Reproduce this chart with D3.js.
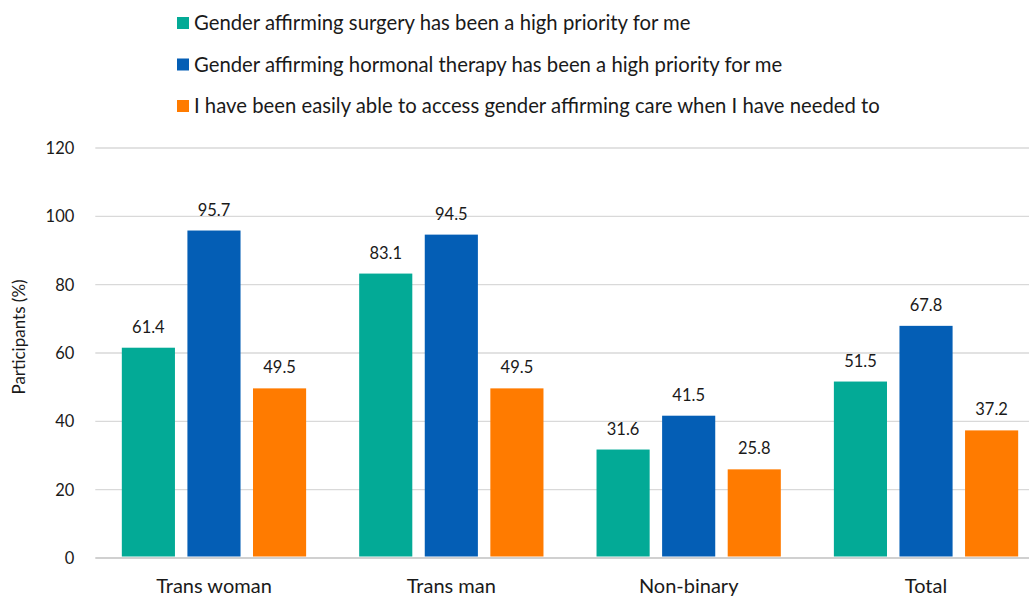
<!DOCTYPE html>
<html>
<head>
<meta charset="utf-8">
<script src="https://cdn.jsdelivr.net/npm/d3@7/dist/d3.min.js"></script>
<style>
  html, body { margin: 0; padding: 0; background: #fff; }
  svg { display: block; }
  text { font-family: Lato, "Open Sans", sans-serif; fill: #1a1a1a; }
</style>
</head>
<body>
<svg id="chart" width="1029" height="597"></svg>
<script>
const categories = ["Trans woman", "Trans man", "Non-binary", "Total"];
const seriesNames = [
  "Gender affirming surgery has been a high priority for me",
  "Gender affirming hormonal therapy has been a high priority for me",
  "I have been easily able to access gender affirming care when I have needed to"
];
const surgeryValues = [61.4, 83.1, 31.6, 51.5];
const hormoneValues = [95.7, 94.5, 41.5, 67.8];
const accessValues = [49.5, 49.5, 25.8, 37.2];
const seriesColors = ["#03AA96", "#045EB5", "#FF7B00"];
const yTicks = [0, 20, 40, 60, 80, 100, 120];
const yTitle = "Participants (%)";

const seriesValues = [surgeryValues, hormoneValues, accessValues];
const data = categories.map((c, i) => ({
  category: c,
  values: seriesNames.map((s, j) => ({ series: s, idx: j, value: seriesValues[j][i] }))
}));

const svg = d3.select("#chart");
const plotLeft = 95.3, plotRight = 1044.7, plotTop = 147.5, plotBottom = 557.5;

const y = d3.scaleLinear().domain([0, 120]).range([plotBottom, plotTop]);
const x0 = d3.scaleBand().domain(categories).range([plotLeft, plotRight]).padding(0);
const groupWidth = 184.3;
const x1 = d3.scaleBand().domain(d3.range(seriesNames.length)).range([0, groupWidth]).paddingInner(0.19).paddingOuter(0);

// gridlines
const yAxis = d3.axisLeft(y).tickValues(yTicks).tickSize(-(plotRight - plotLeft)).tickPadding(21).tickFormat(d3.format("d"));
const gAxis = svg.append("g").attr("transform", `translate(${plotLeft},0)`).call(yAxis);
gAxis.select(".domain").remove();
gAxis.selectAll(".tick line").attr("stroke", "#d9d9d9").attr("stroke-width", 1.3);
gAxis.selectAll(".tick").filter(d => d === 0).select("line").attr("stroke", "#d0d0d0").attr("stroke-width", 2);
gAxis.selectAll(".tick text").attr("font-size", 16.5).attr("fill", "#1a1a1a").attr("dy", "0.36em")
  .style("font-family", "Lato, sans-serif");

// bars
const groups = svg.append("g").selectAll("g").data(data).join("g")
  .attr("transform", d => `translate(${x0(d.category) + (x0.bandwidth() - groupWidth) / 2},0)`);

groups.selectAll("rect").data(d => d.values).join("rect")
  .attr("x", d => x1(d.idx))
  .attr("width", x1.bandwidth())
  .attr("y", d => y(d.value))
  .attr("height", d => y(0) - y(d.value) - 1)
  .attr("fill", d => seriesColors[d.idx]);

groups.selectAll("text.lbl").data(d => d.values).join("text")
  .attr("class", "lbl")
  .attr("x", d => x1(d.idx) + x1.bandwidth() / 2)
  .attr("y", d => y(d.value) - 15)
  .attr("text-anchor", "middle")
  .attr("font-size", 16.5)
  .text(d => d.value.toFixed(1));

// x axis labels
const xAxis = d3.axisBottom(x0).tickSize(0).tickPadding(0);
const gx = svg.append("g").attr("transform", `translate(0,${plotBottom})`).call(xAxis);
gx.select(".domain").remove();
gx.selectAll(".tick text").attr("font-size", 20).attr("fill", "#1a1a1a").attr("dy", 0).attr("y", 35)
  .style("font-family", "Lato, sans-serif");

// y title
svg.append("text")
  .attr("transform", `translate(24.5,337) rotate(-90)`)
  .attr("text-anchor", "middle")
  .attr("font-size", 17)
  .text(yTitle);

// legend
const legend = svg.append("g").selectAll("g").data(seriesNames).join("g")
  .attr("transform", (d, i) => `translate(177,${30 + i * 41.5})`);
legend.append("rect").attr("x", 0).attr("y", -13).attr("width", 12).attr("height", 12)
  .attr("fill", (d, i) => seriesColors[i]);
legend.append("text").attr("x", 17).attr("y", 0).attr("font-size", 20.3).text(d => d);
</script>
</body>
</html>
